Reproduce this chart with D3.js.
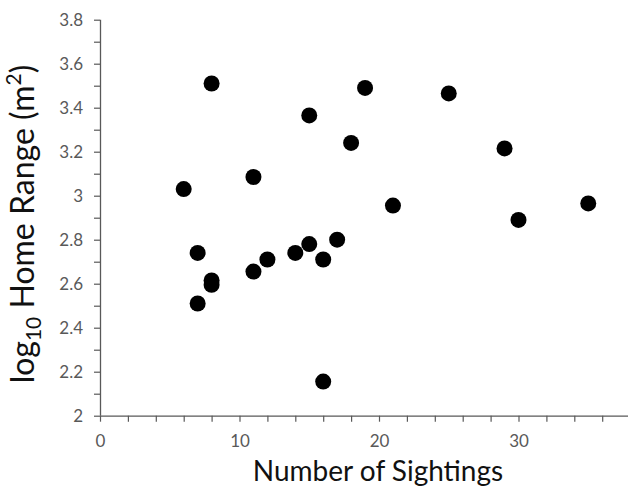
<!DOCTYPE html>
<html>
<head>
<meta charset="utf-8">
<script src="https://cdn.jsdelivr.net/npm/d3@7"></script>
<style>
  html, body { margin: 0; padding: 0; background: #fff; }
  svg { display: block; }
</style>
</head>
<body>
<svg id="chart" width="628" height="495"></svg>
<script>
// ---- data ----
const sightings = [6, 7, 7, 8, 8, 8, 11, 11, 12, 14, 15, 15, 16, 16, 17, 18, 19, 21, 25, 29, 30, 35];
const logHomeRange = [3.03, 2.74, 2.51, 3.51, 2.615, 2.595, 3.085, 2.655, 2.71, 2.74, 3.365, 2.78, 2.71, 2.155, 2.80, 3.24, 3.49, 2.955, 3.465, 3.215, 2.89, 2.965];
const xTicks = [0, 2, 4, 6, 8, 10, 12, 14, 16, 18, 20, 22, 24, 26, 28, 30, 32, 34, 36, 38];
const xTickLabels = ["0", "10", "20", "30"];
const yTicks = [2, 2.1, 2.2, 2.3, 2.4, 2.5, 2.6, 2.7, 2.8, 2.9, 3, 3.1, 3.2, 3.3, 3.4, 3.5, 3.6, 3.7, 3.8];
const yTickLabels = ["2", "2.2", "2.4", "2.6", "2.8", "3", "3.2", "3.4", "3.6", "3.8"];

const svg = d3.select("#chart");
const font = "Lato, 'Open Sans', sans-serif";
const axisColor = "#595959";

const x = d3.scaleLinear().domain([0, 38]).range([100, 630.1]);
const y = d3.scaleLinear().domain([2, 3.8]).range([415.7, 19.7]);

const fmt = v => String(+v.toFixed(1));

// x axis
const xAxis = d3.axisBottom(x)
  .tickValues(xTicks)
  .tickSize(6)
  .tickPadding(13)
  .tickFormat(d => xTickLabels.includes(fmt(d)) ? fmt(d) : "");
const gx = svg.append("g").attr("transform", `translate(0,${y(2)})`).call(xAxis);

// y axis
const yAxis = d3.axisLeft(y)
  .tickValues(yTicks)
  .tickSize(6)
  .tickPadding(11)
  .tickFormat(d => yTickLabels.includes(fmt(d)) ? fmt(d) : "");
const gy = svg.append("g").attr("transform", `translate(${x(0)},0)`).call(yAxis);

[gx, gy].forEach(g => {
  g.select(".domain").attr("stroke", axisColor).attr("stroke-width", 1.3);
  g.selectAll(".tick line").attr("stroke", axisColor).attr("stroke-width", 1.2);
  g.selectAll(".tick text")
    .attr("fill", axisColor)
    .style("font-family", font)
    .style("font-size", "17px");
});
gx.select(".domain").attr("d", `M${x(0)},0.5H${x(38)}`);
gy.select(".domain").attr("d", `M0.5,${y(2)}V${y(3.8)}`);

// points
svg.append("g")
  .selectAll("circle")
  .data(sightings.map((s, i) => [s, logHomeRange[i]]))
  .join("circle")
  .attr("cx", d => x(d[0]))
  .attr("cy", d => y(d[1]))
  .attr("r", 8)
  .attr("fill", "#000");

// axis titles
svg.append("text")
  .attr("x", 378)
  .attr("y", 481)
  .attr("text-anchor", "middle")
  .style("font-family", font)
  .style("font-size", "28px")
  .attr("fill", "#111")
  .text("Number of Sightings");

const yt = svg.append("text")
  .attr("transform", "translate(34,224) rotate(-90)")
  .attr("text-anchor", "middle")
  .style("font-family", font)
  .style("font-size", "32px")
  .attr("fill", "#111");
yt.append("tspan").text("log");
yt.append("tspan").attr("dy", 7).style("font-size", "21px").text("10");
yt.append("tspan").attr("dy", -7).text(" Home Range (m");
yt.append("tspan").attr("dy", -13).style("font-size", "21px").text("2");
yt.append("tspan").attr("dy", 13).text(")");
</script>
</body>
</html>
